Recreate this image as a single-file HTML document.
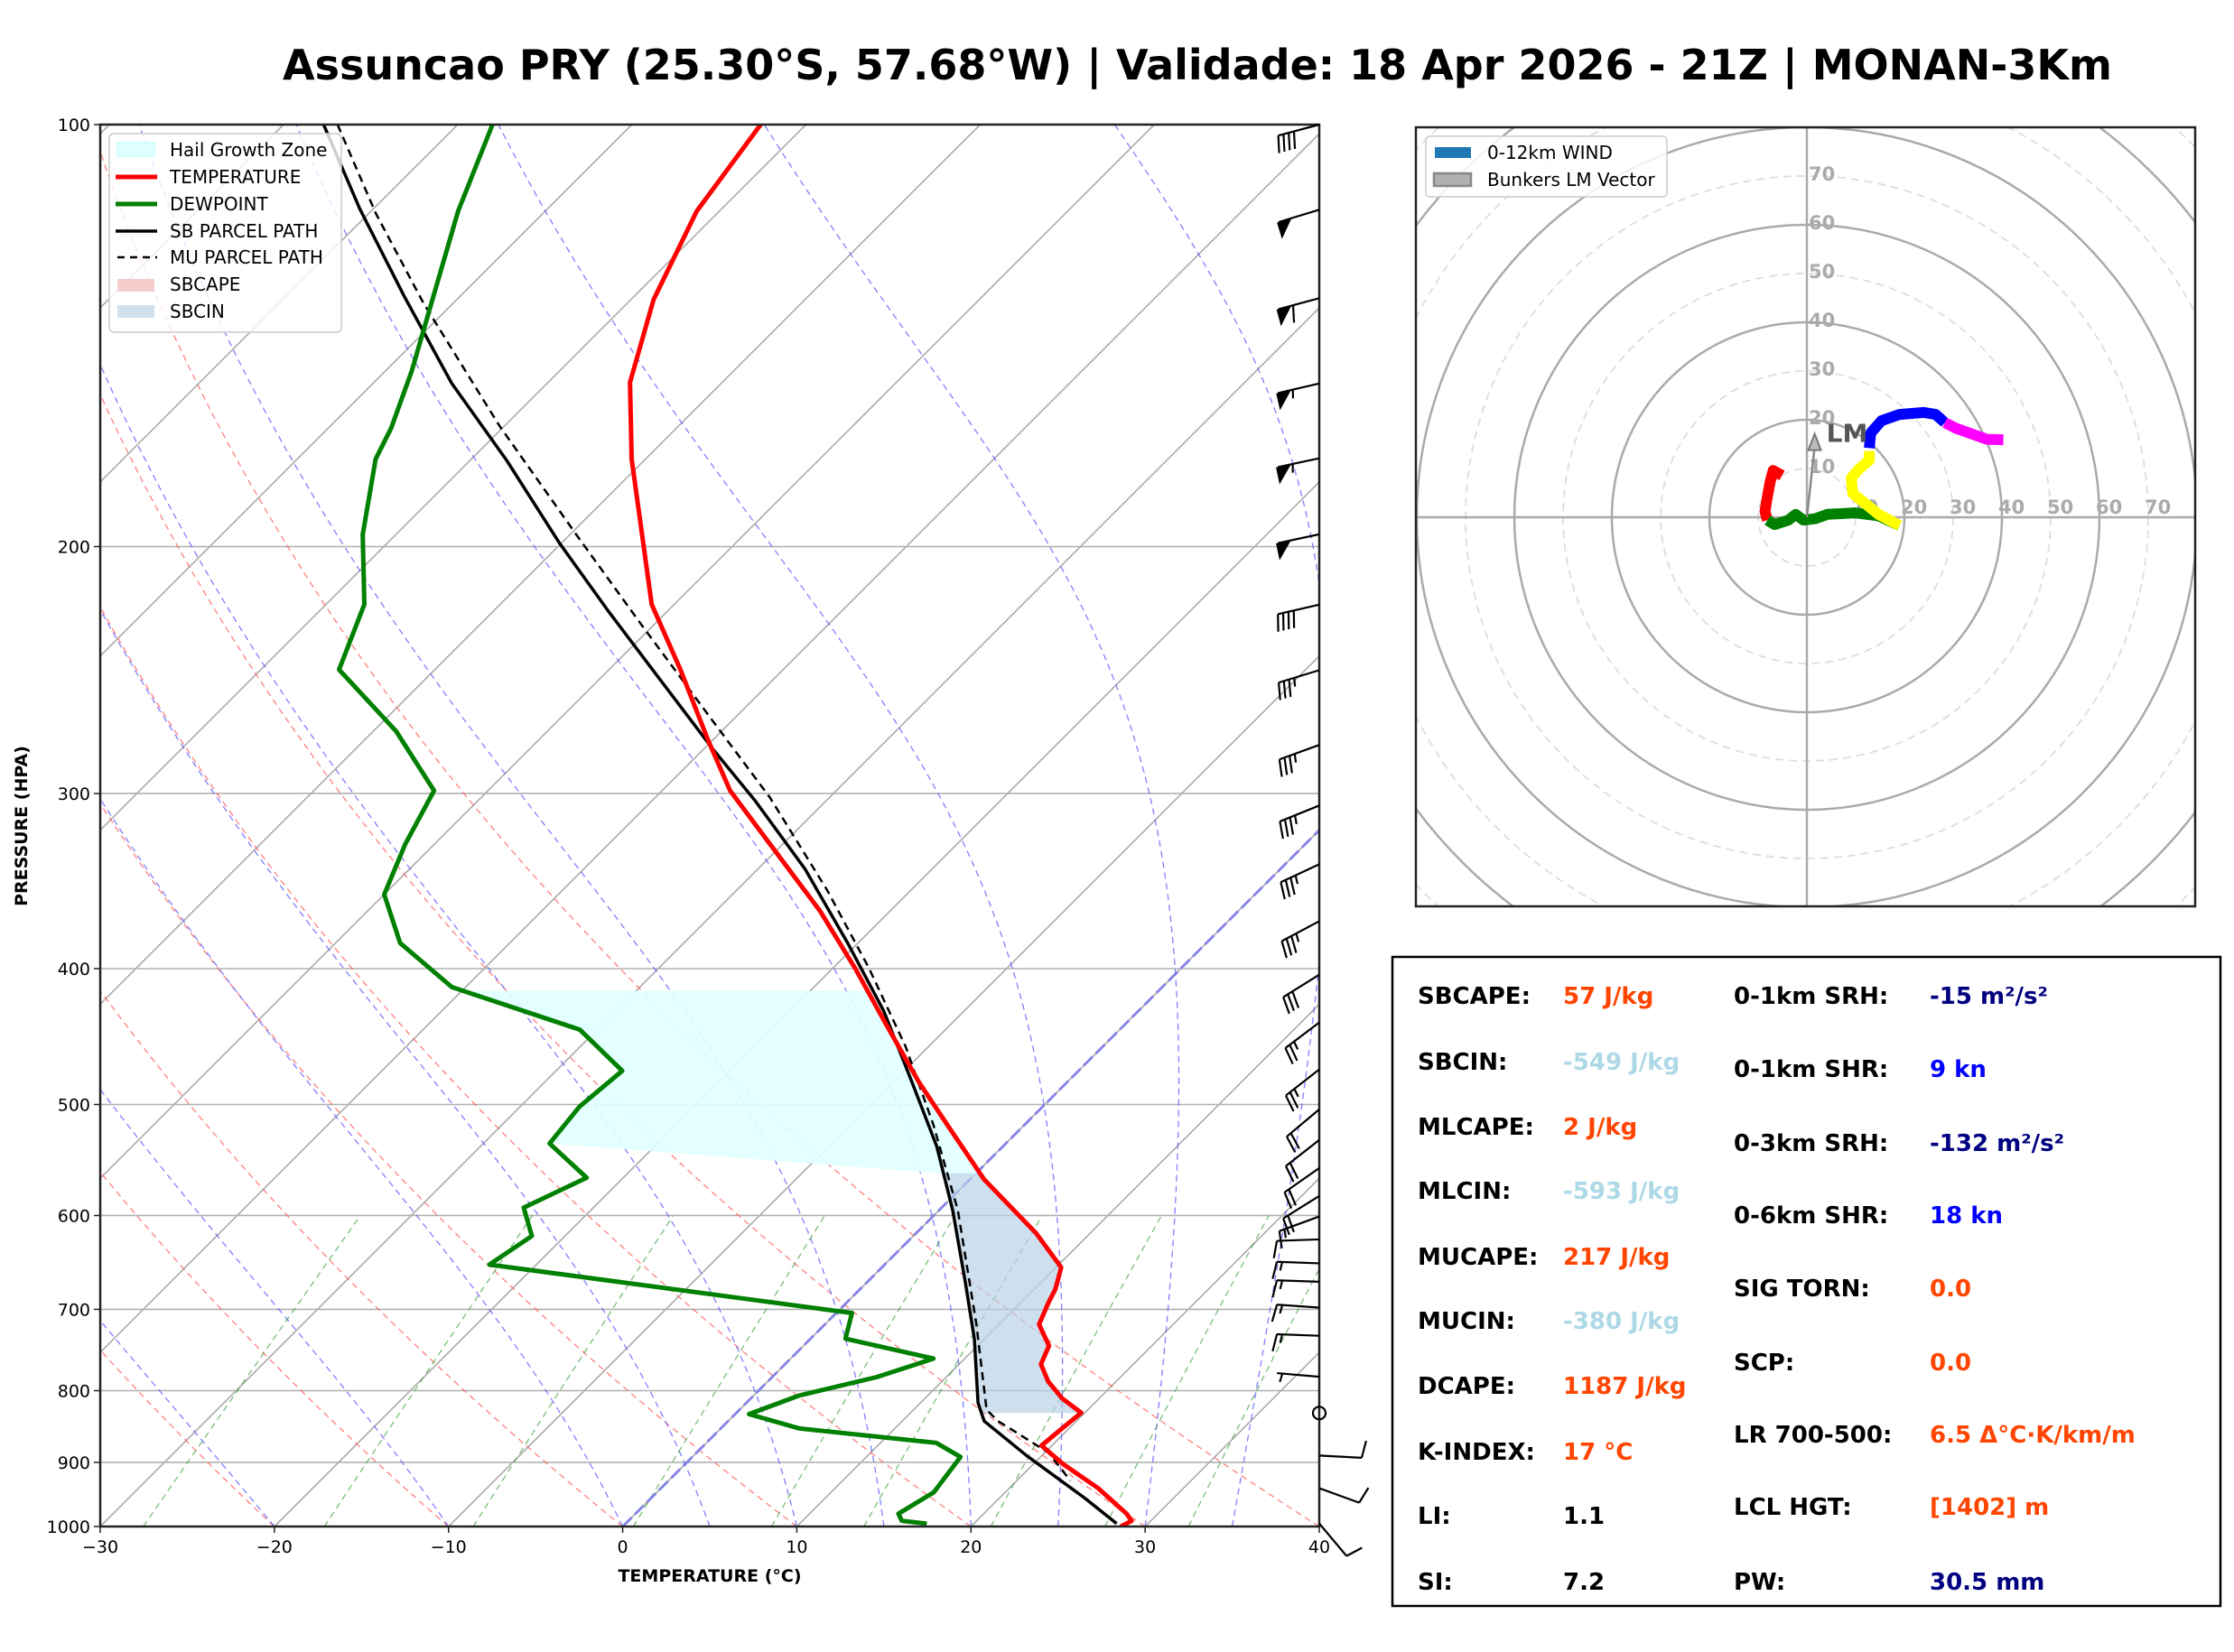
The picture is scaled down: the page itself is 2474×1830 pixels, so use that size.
<!DOCTYPE html>
<html><head><meta charset="utf-8">
<style>
html,body{margin:0;padding:0;background:#fff;}
svg{display:block;font-family:"DejaVu Sans","Liberation Sans",sans-serif;}
</style></head>
<body>
<svg id="fig" width="2474" height="1830" viewBox="0 0 2474 1830" xmlns="http://www.w3.org/2000/svg">
<defs>
<clipPath id="plotclip"><rect x="111" y="138" width="1350" height="1553"/></clipPath>
<clipPath id="hodoclip"><rect x="1568" y="141" width="863" height="863"/></clipPath>
</defs>
<text x="1326" y="88" font-size="46" font-weight="bold" text-anchor="middle">Assuncao PRY (25.30°S, 57.68°W) | Validade: 18 Apr 2026 - 21Z | MONAN-3Km</text>
<g id="skewt">
<g id="bg" clip-path="url(#plotclip)"></g>
<g id="fills" clip-path="url(#plotclip)"></g>
<g id="profiles" clip-path="url(#plotclip)"></g>
<rect x="111" y="138" width="1350" height="1553" fill="none" stroke="#222" stroke-width="2.5"/>
<g id="axes"></g>
<g id="barbs"></g>
<text x="786" y="1752" font-size="19" font-weight="bold" text-anchor="middle">TEMPERATURE (°C)</text>
<text x="0" y="0" font-size="19" font-weight="bold" text-anchor="middle" transform="translate(30,915) rotate(-90)">PRESSURE (HPA)</text>
<g>
<rect x="121" y="148" width="257" height="220" rx="5" fill="#fff" fill-opacity="0.8" stroke="#ccc" stroke-width="1.5"/>
<rect x="130" y="158" width="41" height="15" fill="#e0ffff" stroke="#b0ffff"/>
<text x="188" y="173" font-size="20">Hail Growth Zone</text>
<line x1="128" y1="196" x2="174" y2="196" stroke="#f00" stroke-width="5"/>
<text x="188" y="203" font-size="20">TEMPERATURE</text>
<line x1="128" y1="226" x2="174" y2="226" stroke="#008000" stroke-width="5"/>
<text x="188" y="233" font-size="20">DEWPOINT</text>
<line x1="128" y1="256" x2="174" y2="256" stroke="#000" stroke-width="3.5"/>
<text x="188" y="263" font-size="20">SB PARCEL PATH</text>
<line x1="130" y1="285" x2="174" y2="285" stroke="#000" stroke-width="2.5" stroke-dasharray="8,6"/>
<text x="188" y="292" font-size="20">MU PARCEL PATH</text>
<rect x="130" y="309" width="41" height="14" fill="#f4cccc"/>
<text x="188" y="322" font-size="20">SBCAPE</text>
<rect x="130" y="338" width="41" height="14" fill="#cfe0ec"/>
<text x="188" y="352" font-size="20">SBCIN</text>
</g>
</g>
<g id="hodo">
<rect x="1568" y="141" width="863" height="863" fill="#fff"/>
<g id="hodobg" clip-path="url(#hodoclip)"></g>
<g id="hodotrace" clip-path="url(#hodoclip)"></g>
<rect x="1568" y="141" width="863" height="863" fill="none" stroke="#222" stroke-width="2.5"/>
<g>
<rect x="1579" y="151" width="267" height="67" rx="4" fill="#fff" fill-opacity="0.85" stroke="#ccc" stroke-width="1.5"/>
<rect x="1589" y="163" width="40" height="12" fill="#1f77b4"/>
<text x="1647" y="176" font-size="20">0-12km WIND</text>
<rect x="1588" y="192" width="41" height="14" fill="#b0b0b0" stroke="#888" stroke-width="2.5"/>
<text x="1647" y="206" font-size="20">Bunkers LM Vector</text>
</g>
</g>
<g id="table">
<rect x="1542" y="1060" width="917" height="719" fill="#fff" stroke="#000" stroke-width="2.5"/>
</g>
</svg>
<script>
// ---------- data ----------
const tempP = [100,115.3,133.3,152.7,173.2,219.9,244.8,275.2,298.6,325.7,364,399.9,439.3,482.1,517.3,565.3,617.8,653.4,676.8,692.7,717.5,743.2,766.1,788,810.5,829.6,851.2,875.5,902.5,939,979.2,990.7,1000];
const tempT = [-72.6,-71.3,-68.7,-65.3,-60.8,-51.3,-45.9,-40.2,-36.1,-30.8,-24.0,-18.7,-13.6,-8.5,-4.4,0.8,6.9,10.3,11.2,11.6,12.3,14.1,14.7,16.1,17.9,19.8,19.6,19.4,21.7,25.1,28.2,28.9,28.6];
const dewP = [100,115.3,133.3,149.8,164.5,173.2,196.1,219.9,244.8,270.8,298.6,325.7,354.1,383.5,412.3,442.2,473.1,501.7,533.1,563.9,592.3,620.6,650.4,704.2,734.5,759,782.4,806.6,831.5,851.2,871.6,892,945.4,979.2,990.7,995.3];
const dewT = [-88.0,-85.0,-81.4,-78.5,-76.4,-75.5,-71.9,-67.8,-65.5,-58.7,-53.1,-51.7,-50.0,-46.3,-40.8,-31.0,-26.2,-26.6,-26.2,-22.1,-24.0,-21.9,-22.7,0.9,2.0,8.2,6.0,2.6,0.8,4.5,13.2,15.4,15.9,15.1,15.7,17.3];
const sbP = [100,114.8,132.6,152.9,173.6,198.9,222,246.8,278.8,303.5,339.6,383.5,429,482.1,535.6,595.1,668.8,734.5,816.1,841,889.8,954.3,995.3];
const sbT = [-97.7,-90.8,-83.2,-75.5,-67.9,-60.1,-53.5,-47.0,-39.5,-34.1,-27.3,-20.6,-14.6,-8.9,-3.8,0.8,5.6,9.4,13.3,14.7,19.1,24.9,28.2];
const muP = [100,115.7,134.1,164,195.9,227.1,266.3,302.1,351.7,399.9,454.8,517.3,595.1,717.5,825.7,841,885.6,927.9];
const muT = [-96.9,-89.6,-81.7,-70.3,-59.7,-50.8,-41.1,-33.4,-24.8,-17.9,-11.3,-5.2,1.1,8.7,14.2,15.5,20.2,23.1];
const hailTopP = 415, hailBotLeftP = 533, hailBotRightP = 563;
const cinTopP = 560, cinBotP = 830;
// wind barbs
const barbP = [100,115,133,153,173,196,220,245,277,306,337,370,404,437,472,504,530,555,581,601,624,649,669,698,731,782,830,890,939,995];
const barbSpd = [40,50,60,55,55,50,40,35,35,35,35,35,30,25,25,20,20,20,20,15,10,15,15,15,15,5,0,10,10,10];
const barbDir = [255,253,255,257,258,258,257,253,250,248,245,242,238,233,232,230,232,235,238,250,268,272,272,274,272,275,0,93,110,140];
// hodograph (kt)
const hodoSegColors = ['#ff0000','#008000','#ffff00','#0000ff','#ff00ff'];
const hodoU0 = [-5.1,-6.9,-7.5,-8.1,-8.6,-8.1];
const hodoV0 = [8.6,9.6,7.4,4.3,1.2,-0.6];
const hodoU1 = [-8.1,-6.6,-3.8,-2.3,-0.7,1.7,4.2,9.8,14.7,19.0];
const hodoV1 = [-0.6,-1.5,-0.6,0.6,-0.6,-0.3,0.6,0.9,0.3,-1.7];
const hodoU2 = [19.0,14.7,9.4,9.1,10.7,12.8,12.8];
const hodoV2 = [-1.7,0.6,4.9,8.0,9.9,11.7,13.6];
const hodoU3 = [12.8,13.1,15.3,19.0,24.0,26.4,28.3];
const hodoV3 = [14.2,17.3,19.8,21.1,21.5,21.1,19.4];
const hodoU4 = [28.3,30.7,36.9,40.3];
const hodoV4 = [19.4,18.2,16.0,15.9];
const lmU = 1.6, lmV = 16.0;
// table
const leftLabels = ['SBCAPE:','SBCIN:','MLCAPE:','MLCIN:','MUCAPE:','MUCIN:','DCAPE:','K-INDEX:','LI:','SI:'];
const leftValues = ['57 J/kg','-549 J/kg','2 J/kg','-593 J/kg','217 J/kg','-380 J/kg','1187 J/kg','17 °C','1.1','7.2'];
const leftColors = ['#ff4500','#add8e6','#ff4500','#add8e6','#ff4500','#add8e6','#ff4500','#ff4500','#000','#000'];
const rightLabels = ['0-1km SRH:','0-1km SHR:','0-3km SRH:','0-6km SHR:','SIG TORN:','SCP:','LR 700-500:','LCL HGT:','PW:'];
const rightValues = ['-15 m²/s²','9 kn','-132 m²/s²','18 kn','0.0','0.0','6.5 Δ°C·K/km/m','[1402] m','30.5 mm'];
const rightColors = ['#000080','#0000ff','#000080','#0000ff','#ff4500','#ff4500','#ff4500','#ff4500','#000080'];
const xTicks = [-30,-20,-10,0,10,20,30,40];
const yTicks = [100,200,300,400,500,600,700,800,900,1000];

// ---------- axes ----------
const X0=111, X1=1461, Y0=138, Y1=1691, PXC=(X1-X0)/70;
function yP(p){ return Y1 - (Y1-Y0)*Math.log10(1000/p); }
function xT(T,p){ return X0 + (T+30)*PXC + (Y1 - yP(p)); }
const NS='http://www.w3.org/2000/svg';
function mk(tag, attrs, parent){ const e=document.createElementNS(NS,tag); for(const k in attrs) e.setAttribute(k,attrs[k]); parent.appendChild(e); return e; }
function pathFrom(ps, ts){ return ps.map((p,i)=>(i?'L':'M')+xT(ts[i],p).toFixed(1)+','+yP(p).toFixed(1)).join(''); }
function interpT(ps, ts, p){ for(let i=0;i<ps.length-1;i++){ if((p>=ps[i]&&p<=ps[i+1])){ const f=(Math.log(p)-Math.log(ps[i]))/(Math.log(ps[i+1])-Math.log(ps[i])); return ts[i]+f*(ts[i+1]-ts[i]); } } return ts[ts.length-1]; }

const bg=document.getElementById('bg');
const pres=[]; for(let p=1000;p>=100;p-=10) pres.push(p);
for(let T=-110;T<=40;T+=10){
  const l=mk('line',{x1:xT(T,1000),y1:Y1,x2:xT(T,100),y2:Y0,stroke:'#aaa','stroke-width':1.6},bg);
  
  
}
yTicks.forEach(p=>{ if(p>100&&p<1000){ const l=mk('line',{x1:X0,y1:yP(p),x2:X1,y2:yP(p),stroke:'#b0b0b0','stroke-width':1.6},bg);
  
   }});
for(let T0=-120;T0<=40;T0+=10){
  const th=T0+273.15; const ts=pres.map(p=>th*Math.pow(p/1000,0.286)-273.15);
  const l=mk('path',{d:pathFrom(pres,ts),fill:'none',stroke:'#ff5555','stroke-width':1.3,'stroke-dasharray':'7,5','stroke-opacity':0.75},bg);
  
  
}
function dTdp(p,T){ const Rd=287.04,Cp=1005.7,Lv=2.501e6,eps=0.622; const es=6.112*Math.exp(17.67*(T-273.15)/(T-29.65)); const rs=eps*es/(p-es); return (Rd*T+Lv*rs)/(p*(Cp+Lv*Lv*rs*eps/(Rd*T*T))); }
[-40,-30,-20,-10,0,5,10,15,20,25,30,35,40].forEach(T0=>{
  let T=T0+273.15; const ps=[1000], ts=[T0];
  for(let p=1000;p>100;p-=5){ const h=-5; const k1=dTdp(p,T), k2=dTdp(p+h/2,T+h/2*k1), k3=dTdp(p+h/2,T+h/2*k2), k4=dTdp(p+h,T+h*k3); T+=h/6*(k1+2*k2+2*k3+k4); ps.push(p+h); ts.push(T-273.15); }
  const l=mk('path',{d:pathFrom(ps,ts),fill:'none',stroke:'#5555ff','stroke-width':1.3,'stroke-dasharray':'7,5','stroke-opacity':0.75},bg);
  
  
});
[0.0004,0.001,0.002,0.004,0.007,0.01,0.016,0.024,0.032].forEach(w=>{
  const ps=[],ts=[]; for(let p=1000;p>=600;p-=20){ const e=w*p/(0.622+w); const a=Math.log(e/6.112); ps.push(p); ts.push(243.5*a/(17.67-a)); }
  const l=mk('path',{d:pathFrom(ps,ts),fill:'none',stroke:'#339933','stroke-width':1.3,'stroke-dasharray':'7,5','stroke-opacity':0.65},bg);
  
  
});
{ const l=mk('line',{x1:xT(0,1000),y1:Y1,x2:xT(0,100),y2:Y0,stroke:'#7777ee','stroke-width':3,'stroke-dasharray':'14,5','stroke-opacity':0.8},bg);
  
   }

const fills=document.getElementById('fills');
{
  const pts=[];
  pts.push([xT(interpT(dewP,dewT,hailTopP),hailTopP),yP(hailTopP)]);
  pts.push([xT(interpT(tempP,tempT,hailTopP),hailTopP),yP(hailTopP)]);
  tempP.forEach((p,i)=>{ if(p>hailTopP&&p<hailBotRightP) pts.push([xT(tempT[i],p),yP(p)]); });
  pts.push([xT(interpT(tempP,tempT,hailBotRightP),hailBotRightP),yP(hailBotRightP)]);
  pts.push([xT(interpT(dewP,dewT,hailBotLeftP),hailBotLeftP),yP(hailBotLeftP)]);
  for(let i=dewP.length-1;i>=0;i--){ const p=dewP[i]; if(p>hailTopP&&p<hailBotLeftP) pts.push([xT(dewT[i],p),yP(p)]); }
  const e=mk('polygon',{points:pts.map(a=>a[0].toFixed(1)+','+a[1].toFixed(1)).join(' '),fill:'#e0ffff','fill-opacity':0.9},fills);
  
  
}
{
  const pts=[];
  pts.push([xT(interpT(tempP,tempT,cinTopP),cinTopP),yP(cinTopP)]);
  tempP.forEach((p,i)=>{ if(p>cinTopP&&p<cinBotP) pts.push([xT(tempT[i],p),yP(p)]); });
  pts.push([xT(interpT(tempP,tempT,cinBotP),cinBotP),yP(cinBotP)]);
  pts.push([xT(interpT(sbP,sbT,cinBotP),cinBotP),yP(cinBotP)]);
  for(let i=sbP.length-1;i>=0;i--){ const p=sbP[i]; if(p>cinTopP&&p<cinBotP) pts.push([xT(sbT[i],p),yP(p)]); }
  pts.push([xT(interpT(sbP,sbT,cinTopP),cinTopP),yP(cinTopP)]);
  const e=mk('polygon',{points:pts.map(a=>a[0].toFixed(1)+','+a[1].toFixed(1)).join(' '),fill:'#b9d2e6','fill-opacity':0.7},fills);
  
  
}
const prof=document.getElementById('profiles');
{ let e;
  e=mk('path',{d:pathFrom(muP,muT),fill:'none',stroke:'#000','stroke-width':2.5,'stroke-dasharray':'9,6'},prof);
  
  
  e=mk('path',{d:pathFrom(sbP,sbT),fill:'none',stroke:'#000','stroke-width':3.5,'stroke-linejoin':'round'},prof);
  
  
  e=mk('path',{d:pathFrom(tempP,tempT),fill:'none',stroke:'#ff0000','stroke-width':5,'stroke-linejoin':'round'},prof);
  
  
  e=mk('path',{d:pathFrom(dewP,dewT),fill:'none',stroke:'#008000','stroke-width':5,'stroke-linejoin':'round'},prof);
  
  
}
const ax=document.getElementById('axes');
xTicks.forEach(T=>{ const x=X0+(T+30)*PXC;
  mk('line',{x1:x,y1:Y1,x2:x,y2:Y1+7,stroke:'#222','stroke-width':1.5},ax);
  const t=mk('text',{x:x,y:Y1+29,'font-size':19,'text-anchor':'middle'},ax); t.textContent=(T<0?'−':'')+Math.abs(T);
  
   });
yTicks.forEach(p=>{ const y=yP(p);
  mk('line',{x1:X0-7,y1:y,x2:X0,y2:y,stroke:'#222','stroke-width':1.5},ax);
  const t=mk('text',{x:X0-11,y:y+7,'font-size':19,'text-anchor':'end'},ax); t.textContent=p;
  
   });
const bg2=document.getElementById('barbs');
barbP.forEach((p,i)=>{
  const g=mk('g',{},bg2);
  
  
  const bx=X1, by=yP(p), s=barbSpd[i];
  if(s<2.5){ mk('circle',{cx:bx,cy:by,r:7,fill:'none',stroke:'#000','stroke-width':2.2},g); return; }
  const d=barbDir[i]*Math.PI/180, ux=Math.sin(d), uy=-Math.cos(d), nx=uy, ny=-ux;
  const L=47, tx=bx+L*ux, ty=by+L*uy;
  mk('line',{x1:bx,y1:by,x2:tx,y2:ty,stroke:'#000','stroke-width':2.2},g);
  let r=Math.round(s/5)*5, pos=0; const fl=19, sp=6;
  const np=Math.floor(r/50); r-=np*50; const nf=Math.floor(r/10); r-=nf*10; const nh=r>=5?1:0;
  for(let k=0;k<np;k++){ const px=tx-ux*pos, py=ty-uy*pos;
    mk('polygon',{points:`${px+ux*2},${py+uy*2} ${px-ux*15},${py-uy*15} ${px+nx*fl+ux*2},${py+ny*fl+uy*2}`,fill:'#000'},g); pos+=17; }
  for(let k=0;k<nf;k++){ const px=tx-ux*pos, py=ty-uy*pos;
    mk('line',{x1:px,y1:py,x2:px+nx*fl+ux*4,y2:py+ny*fl+uy*4,stroke:'#000','stroke-width':2.2},g); pos+=sp; }
  if(nh){ if(np+nf===0) pos=sp; const px=tx-ux*pos, py=ty-uy*pos;
    mk('line',{x1:px,y1:py,x2:px+nx*fl/2+ux*2,y2:py+ny*fl/2+uy*2,stroke:'#000','stroke-width':2.2},g); }
});

// ---------- hodograph ----------
const HCX=2001, HCY=573, HK=5.4;
const hb=document.getElementById('hodobg');
for(let k=10;k<=120;k+=10){
  const solid=(k%20===0);
  const c=mk('circle',{cx:HCX,cy:HCY,r:k*HK,fill:'none',stroke:solid?'#aaa':'#ddd','stroke-width':solid?2.5:1.8,'stroke-dasharray':solid?'none':'9,6'},hb);
  
  
}
mk('line',{x1:1568,y1:HCY,x2:2431,y2:HCY,stroke:'#aaa','stroke-width':2.5},hb);
mk('line',{x1:HCX,y1:141,x2:HCX,y2:1004,stroke:'#aaa','stroke-width':2.5},hb);
for(let k=10;k<=70;k+=10){
  const t=mk('text',{x:HCX+2,y:HCY-k*HK+5,'font-size':21,fill:'#aaa','font-weight':'bold'},hb); t.textContent=k;
  
  
  const t2=mk('text',{x:HCX+k*HK-4,y:HCY-4,'font-size':21,fill:'#aaa','font-weight':'bold'},hb); t2.textContent=k;
  
  
}
const ht=document.getElementById('hodotrace');
[[hodoU0,hodoV0],[hodoU1,hodoV1],[hodoU2,hodoV2],[hodoU3,hodoV3],[hodoU4,hodoV4]].forEach((s,i)=>{
  const d=s[0].map((u,j)=>(j?'L':'M')+(HCX+u*HK).toFixed(1)+','+(HCY-s[1][j]*HK).toFixed(1)).join('');
  const e=mk('path',{d:d,fill:'none',stroke:hodoSegColors[i],'stroke-width':12,'stroke-linejoin':'round'},ht);
  
  
});
{ const ex=HCX+lmU*HK, ey=HCY-lmV*HK;
  const e=mk('line',{x1:HCX,y1:HCY,x2:ex,y2:ey+8,stroke:'#888','stroke-width':2.5},ht);
  
  
  mk('polygon',{points:`${ex},${ey-6} ${ex-7},${ey+12} ${ex+7},${ey+12}`,fill:'#bbb',stroke:'#777','stroke-width':2},ht);
  const t=mk('text',{x:ex+13,y:ey+3,'font-size':28,'font-weight':'bold',fill:'#555'},ht); t.textContent='LM';
  
  
}

// ---------- table ----------
const tb=document.getElementById('table');
const leftY=[1112,1185,1257,1328,1401,1472,1544,1617,1688,1761];
const rightY=[1112,1193,1275,1355,1436,1518,1598,1678,1761];
leftLabels.forEach((s,i)=>{
  const a=mk('text',{x:1570,y:leftY[i],'font-size':26,'font-weight':'bold'},tb); a.textContent=s;
  
  
  const b=mk('text',{x:1731,y:leftY[i],'font-size':26,'font-weight':'bold',fill:leftColors[i]},tb); b.textContent=leftValues[i];
  
  
});
rightLabels.forEach((s,i)=>{
  const a=mk('text',{x:1920,y:rightY[i],'font-size':26,'font-weight':'bold'},tb); a.textContent=s;
  
  
  const b=mk('text',{x:2137,y:rightY[i],'font-size':26,'font-weight':'bold',fill:rightColors[i]},tb); b.textContent=rightValues[i];
  
  
});
</script>
</body></html>
